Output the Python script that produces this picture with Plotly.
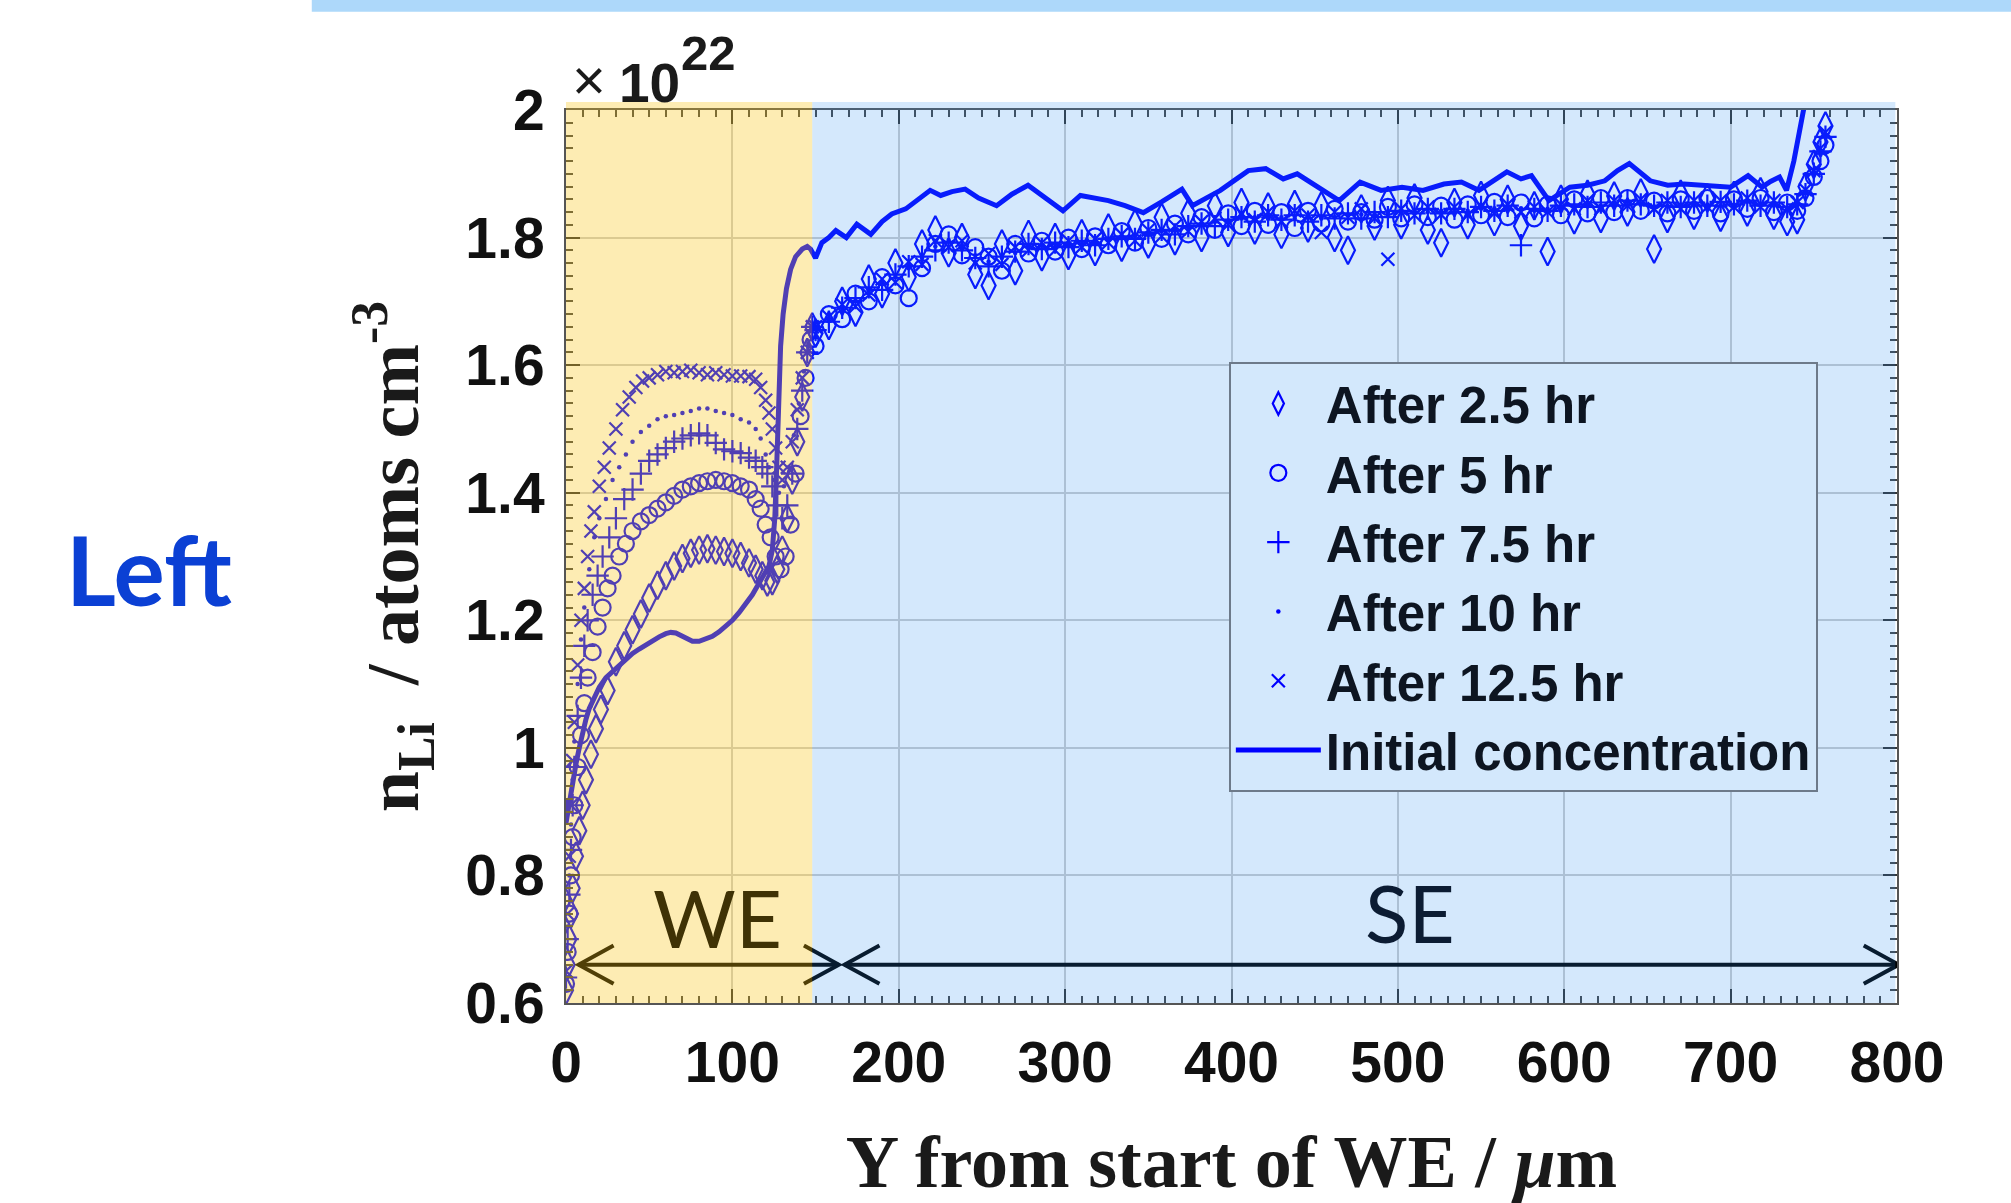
import plotly.graph_objects as go

# ---------------- data (values in units of 1e22 atoms cm^-3) ----------------
SERIES_NAMES = ["After 2.5 hr", "After 5 hr", "After 7.5 hr", "After 10 hr", "After 12.5 hr"]

# working-electrode (WE) part of each profile
WE_X_25 = [0, 1, 2, 3, 4, 6, 8, 10, 12, 15, 18, 21, 25, 30, 35, 40, 45, 50, 55, 60, 65, 70, 75, 80, 85, 90, 95,
           100, 105, 110, 114, 118, 121, 124, 127, 130, 133, 136, 139, 142, 145, 148]
WE_Y_25 = [0.62, 0.66, 0.70, 0.74, 0.78, 0.83, 0.87, 0.91, 0.95, 0.99, 1.03, 1.06, 1.09, 1.135, 1.16, 1.185, 1.21,
           1.235, 1.255, 1.27, 1.285, 1.297, 1.305, 1.31, 1.312, 1.31, 1.308, 1.305, 1.30, 1.29, 1.28, 1.27, 1.26,
           1.262, 1.28, 1.31, 1.36, 1.42, 1.48, 1.55, 1.62, 1.66]

WE_X_5 = [0, 1, 2, 3, 4, 5, 7, 9, 11, 13, 16, 19, 22, 25, 28, 32, 36, 40, 45, 50, 55, 60, 65, 70, 75, 80, 85, 90,
          95, 100, 105, 110, 114, 117, 120, 123, 126, 129, 132, 135, 138, 141, 144, 147]
WE_Y_5 = [0.63, 0.68, 0.74, 0.80, 0.86, 0.91, 0.97, 1.02, 1.07, 1.11, 1.15, 1.19, 1.22, 1.25, 1.27, 1.30, 1.32, 1.34,
          1.355, 1.365, 1.375, 1.385, 1.395, 1.405, 1.41, 1.415, 1.418, 1.42, 1.418, 1.415, 1.41, 1.405, 1.39, 1.375,
          1.35, 1.33, 1.30, 1.28, 1.30, 1.35, 1.43, 1.52, 1.58, 1.64]

WE_X_75 = [0, 1, 2, 3, 4, 5, 7, 9, 11, 13, 16, 19, 22, 26, 30, 35, 40, 45, 50, 55, 60, 65, 70, 75, 80, 85, 90, 95,
           100, 105, 110, 114, 118, 121, 124, 127, 130, 133, 136, 139, 142, 145, 148]
WE_Y_75 = [0.64, 0.70, 0.77, 0.84, 0.91, 0.97, 1.05, 1.11, 1.16, 1.20, 1.24, 1.27, 1.30, 1.33, 1.36, 1.39, 1.405,
           1.43, 1.45, 1.46, 1.47, 1.48, 1.485, 1.49, 1.493, 1.49, 1.478, 1.468, 1.465, 1.462, 1.455, 1.45, 1.44,
           1.43, 1.41, 1.38, 1.36, 1.38, 1.43, 1.50, 1.56, 1.62, 1.66]

WE_X_10 = [0, 1, 2, 3, 4, 5, 7, 9, 11, 14, 17, 20, 24, 28, 32, 36, 40, 45, 50, 55, 60, 65, 70, 75, 80, 85, 90, 95,
           100, 105, 110, 114, 117, 120, 122, 125, 128, 131, 134, 137, 140, 143, 146]
WE_Y_10 = [0.64, 0.72, 0.80, 0.88, 0.95, 1.01, 1.10, 1.17, 1.22, 1.28, 1.33, 1.36, 1.39, 1.42, 1.44, 1.46, 1.48,
           1.495, 1.505, 1.515, 1.52, 1.522, 1.525, 1.528, 1.532, 1.532, 1.528, 1.525, 1.522, 1.515, 1.51, 1.50,
           1.485, 1.46, 1.44, 1.42, 1.40, 1.41, 1.44, 1.49, 1.54, 1.59, 1.63]

WE_X_125 = [0, 1, 2, 3, 4, 5, 7, 9, 11, 13, 15, 17, 20, 23, 26, 30, 34, 38, 42, 46, 50, 55, 60, 65, 70, 75, 80, 85,
            90, 95, 100, 105, 110, 114, 117, 120, 122, 124, 126, 128, 130, 133, 136, 139, 142, 145, 148]
WE_Y_125 = [0.65, 0.74, 0.83, 0.91, 0.98, 1.04, 1.13, 1.20, 1.25, 1.30, 1.34, 1.37, 1.41, 1.44, 1.47, 1.50, 1.53,
            1.55, 1.565, 1.575, 1.58, 1.585, 1.59, 1.588, 1.59, 1.592, 1.588, 1.585, 1.588, 1.585, 1.583, 1.583,
            1.582, 1.578, 1.565, 1.545, 1.525, 1.50, 1.47, 1.44, 1.42, 1.44, 1.48, 1.53, 1.58, 1.62, 1.66]

# separator-electrolyte (SE) part, shared positions
SE_X = [150, 158, 166, 174, 182, 190, 198, 206, 214, 222, 230, 238, 246, 254, 262, 270, 278, 286, 294, 302, 310,
        318, 326, 334, 342, 350, 358, 366, 374, 382, 390, 398, 406, 414, 422, 430, 438, 446, 454, 462, 470, 478,
        486, 494, 502, 510, 518, 526, 534, 542, 550, 558, 566, 574, 582, 590, 598, 606, 614, 622, 630, 638, 646,
        654, 662, 670, 678, 686, 694, 702, 710, 718, 726, 734, 740, 745, 750, 754, 757]

SE_Y_25 = [1.650, 1.662, 1.700, 1.683, 1.735, 1.712, 1.760, 1.738, 1.790, 1.812, 1.776, 1.800, 1.742, 1.725, 1.790,
           1.748, 1.805, 1.770, 1.800, 1.772, 1.806, 1.778, 1.815, 1.785, 1.822, 1.790, 1.832, 1.795, 1.838, 1.800,
           1.850, 1.808, 1.855, 1.812, 1.848, 1.805, 1.852, 1.815, 1.850, 1.800, 1.780, 1.845, 1.818, 1.858, 1.820,
           1.862, 1.812, 1.792, 1.855, 1.820, 1.866, 1.825, 1.860, 1.818, 1.850, 1.778, 1.860, 1.828, 1.868, 1.830,
           1.865, 1.840, 1.870, 1.782, 1.830, 1.868, 1.835, 1.862, 1.832, 1.866, 1.840, 1.872, 1.835, 1.825, 1.828,
           1.880, 1.915, 1.950, 1.975]
SE_Y_5 = [1.630, 1.680, 1.672, 1.712, 1.700, 1.738, 1.725, 1.705, 1.752, 1.790, 1.805, 1.772, 1.785, 1.770, 1.748,
          1.790, 1.775, 1.795, 1.778, 1.800, 1.782, 1.802, 1.788, 1.810, 1.792, 1.815, 1.798, 1.822, 1.805, 1.832,
          1.812, 1.838, 1.818, 1.842, 1.820, 1.840, 1.815, 1.842, 1.822, 1.845, 1.825, 1.840, 1.828, 1.848, 1.830,
          1.852, 1.832, 1.850, 1.828, 1.852, 1.835, 1.856, 1.832, 1.855, 1.830, 1.852, 1.835, 1.860, 1.838, 1.862,
          1.840, 1.862, 1.842, 1.858, 1.838, 1.860, 1.842, 1.862, 1.838, 1.860, 1.845, 1.862, 1.840, 1.855, 1.842,
          1.862, 1.895, 1.920, 1.945]
SE_Y_75 = [1.655, 1.668, 1.690, 1.705, 1.722, 1.718, 1.742, 1.755, 1.770, 1.780, 1.792, 1.780, 1.768, 1.755, 1.770,
           1.778, 1.790, 1.782, 1.792, 1.785, 1.795, 1.788, 1.798, 1.802, 1.798, 1.808, 1.812, 1.805, 1.818, 1.822,
           1.818, 1.828, 1.832, 1.825, 1.835, 1.828, 1.835, 1.825, 1.835, 1.830, 1.838, 1.830, 1.840, 1.832, 1.842,
           1.838, 1.845, 1.838, 1.845, 1.840, 1.848, 1.842, 1.850, 1.788, 1.845, 1.842, 1.850, 1.852, 1.848, 1.855,
           1.850, 1.858, 1.852, 1.850, 1.855, 1.848, 1.855, 1.850, 1.856, 1.852, 1.858, 1.850, 1.855, 1.848, 1.852,
           1.868, 1.900, 1.935, 1.958]
SE_Y_10 = [1.645, 1.670, 1.688, 1.700, 1.718, 1.728, 1.738, 1.752, 1.768, 1.786, 1.796, 1.788, 1.772, 1.762, 1.768,
           1.776, 1.786, 1.788, 1.786, 1.792, 1.790, 1.792, 1.796, 1.800, 1.802, 1.806, 1.810, 1.812, 1.816, 1.820,
           1.825, 1.826, 1.830, 1.832, 1.830, 1.832, 1.830, 1.832, 1.830, 1.832, 1.835, 1.836, 1.835, 1.836, 1.840,
           1.842, 1.840, 1.842, 1.840, 1.842, 1.845, 1.846, 1.845, 1.846, 1.842, 1.845, 1.846, 1.850, 1.852, 1.850,
           1.852, 1.856, 1.852, 1.846, 1.850, 1.852, 1.850, 1.852, 1.850, 1.852, 1.856, 1.852, 1.850, 1.846, 1.850,
           1.870, 1.902, 1.930, 1.960]
SE_Y_125 = [1.660, 1.676, 1.695, 1.692, 1.710, 1.735, 1.730, 1.762, 1.758, 1.795, 1.785, 1.795, 1.760, 1.775, 1.758,
            1.785, 1.780, 1.792, 1.780, 1.795, 1.785, 1.798, 1.792, 1.805, 1.795, 1.812, 1.802, 1.818, 1.810, 1.825,
            1.830, 1.820, 1.838, 1.828, 1.840, 1.825, 1.842, 1.835, 1.808, 1.840, 1.832, 1.845, 1.830, 1.766, 1.845,
            1.835, 1.848, 1.836, 1.848, 1.835, 1.850, 1.838, 1.852, 1.840, 1.848, 1.840, 1.852, 1.845, 1.858, 1.845,
            1.858, 1.850, 1.860, 1.845, 1.858, 1.845, 1.858, 1.848, 1.858, 1.848, 1.862, 1.848, 1.858, 1.845, 1.855,
            1.875, 1.905, 1.940, 1.965]

INIT_X = [0, 2, 4, 6, 8, 10, 12, 14, 17, 20, 24, 28, 32, 36, 40, 44, 48, 52, 56, 60, 63, 66, 69, 72, 76, 80, 84, 88,
          92, 96, 100, 104, 108, 112, 116, 119, 122, 124, 125.5, 126.5, 127.3, 128, 129, 130.5, 132.5, 135, 138, 142,
          145, 147, 149, 150, 153.8, 158, 162.2, 168.5, 174.8, 183.2, 190, 195.8, 204.2, 212, 218.9, 225.2, 232,
          239.9, 248, 258.8, 268, 277.7, 288, 298.7, 309.2, 318, 326, 336, 347, 358, 370.2, 376.5, 385, 393.3, 402,
          410.1, 420.6, 431.1, 439.5, 452, 464.7, 477.3, 489.9, 502.5, 515.1, 527.7, 538.2, 548.7, 557, 565.5, 574,
          580.3, 590.8, 603.4, 614, 624.4, 632, 639.1, 651.7, 662.2, 672, 683.2, 700, 710.5, 718.9, 724, 729.4,
          733.6, 738, 742, 746]
INIT_Y = [0.882, 0.915, 0.945, 0.975, 1.000, 1.025, 1.045, 1.062, 1.080, 1.095, 1.110, 1.120, 1.130, 1.140, 1.148,
          1.155, 1.162, 1.168, 1.174, 1.179, 1.181, 1.180, 1.176, 1.171, 1.167, 1.167, 1.170, 1.175, 1.182, 1.190,
          1.200, 1.212, 1.225, 1.240, 1.258, 1.272, 1.285, 1.310, 1.360, 1.430, 1.500, 1.570, 1.630, 1.680, 1.720,
          1.750, 1.770, 1.782, 1.786, 1.782, 1.772, 1.768, 1.792, 1.800, 1.811, 1.800, 1.821, 1.805, 1.825, 1.837,
          1.845, 1.860, 1.874, 1.866, 1.872, 1.876, 1.862, 1.850, 1.868, 1.882, 1.862, 1.842, 1.866, 1.862, 1.858,
          1.850, 1.839, 1.856, 1.876, 1.850, 1.862, 1.874, 1.890, 1.905, 1.908, 1.892, 1.900, 1.878, 1.858, 1.887,
          1.874, 1.879, 1.874, 1.884, 1.887, 1.874, 1.888, 1.903, 1.892, 1.897, 1.858, 1.879, 1.882, 1.889, 1.905,
          1.916, 1.889, 1.882, 1.884, 1.882, 1.879, 1.897, 1.879, 1.888, 1.895, 1.874, 1.920, 1.975, 2.030]

X_TICKS = [0, 100, 200, 300, 400, 500, 600, 700, 800]
Y_TICKS = [0.6, 0.8, 1.0, 1.2, 1.4, 1.6, 1.8, 2.0]
Y_TICKTEXT = ["0.6", "0.8", "1", "1.2", "1.4", "1.6", "1.8", "2"]
WE_SE_BOUNDARY = 148

# ---------------- figure ----------------
BLUE = "#0000ff"
series = [
    (SERIES_NAMES[0], WE_X_25, WE_Y_25, SE_Y_25, dict(symbol="diamond-tall-open", size=20, line=dict(width=2.2))),
    (SERIES_NAMES[1], WE_X_5, WE_Y_5, SE_Y_5, dict(symbol="circle-open", size=16, line=dict(width=2.2))),
    (SERIES_NAMES[2], WE_X_75, WE_Y_75, SE_Y_75, dict(symbol="cross-thin-open", size=16, line=dict(width=2.2))),
    (SERIES_NAMES[3], WE_X_10, WE_Y_10, SE_Y_10, dict(symbol="circle", size=4.5, line=dict(width=0))),
    (SERIES_NAMES[4], WE_X_125, WE_Y_125, SE_Y_125, dict(symbol="x-thin-open", size=13, line=dict(width=2.2))),
]

fig = go.Figure()
for name, wx, wy, sy, mk in series:
    mk = dict(mk)
    mk["color"] = BLUE
    mk["line"] = dict(mk["line"], color=BLUE)
    fig.add_trace(go.Scatter(x=wx + SE_X, y=wy + sy, mode="markers", name=name, marker=mk))

fig.add_trace(go.Scatter(x=INIT_X, y=INIT_Y, mode="lines", name="Initial concentration",
                         line=dict(color=BLUE, width=5)))


def arrow_shapes(xa, xb, y, hx, hy):
    col = "#000000"
    return [
        dict(type="line", xref="x", yref="y", x0=xa, x1=xb, y0=y, y1=y, line=dict(color=col, width=4), layer="above"),
        dict(type="path", xref="x", yref="y", layer="above", line=dict(color=col, width=4),
             path=f"M {xa + hx},{y + hy} L {xa},{y} L {xa + hx},{y - hy}"),
        dict(type="path", xref="x", yref="y", layer="above", line=dict(color=col, width=4),
             path=f"M {xb - hx},{y + hy} L {xb},{y} L {xb - hx},{y - hy}"),
    ]


shapes = []
shapes += arrow_shapes(7.6, 164, 0.66, 21, 0.03)
shapes += arrow_shapes(167.4, 801, 0.66, 21, 0.03)
# tinted overlays (above data, like the original)
shapes.append(dict(type="rect", xref="x", yref="paper", x0=0, x1=WE_SE_BOUNDARY, y0=0, y1=1.009,
                   fillcolor="rgb(250,195,20)", opacity=0.32, line=dict(width=0), layer="above"))
shapes.append(dict(type="rect", xref="x", yref="paper", x0=WE_SE_BOUNDARY, x1=799, y0=0, y1=1.009,
                   fillcolor="rgb(40,140,240)", opacity=0.2, line=dict(width=0), layer="above"))
# top light-blue band of the slide
shapes.append(dict(type="rect", xref="paper", yref="paper", x0=-0.191, x1=1.2, y0=1.110, y1=1.2,
                   fillcolor="#ADD8FA", line=dict(width=0), layer="above"))

C = dict(xanchor="center", yanchor="middle", showarrow=False)
annotations = [
    dict(text="WE", x=91, y=0.735, xref="x", yref="y",
         font=dict(family="Lato", size=80, color="#3f3205"), **C),
    dict(text="SE", x=507, y=0.742, xref="x", yref="y",
         font=dict(family="Lato", size=80, color="#0c1c33"), **C),
    dict(text="Left", x=-0.3133, y=0.487, xref="paper", yref="paper",
         font=dict(family="Lato", size=96, color="#0B40D4", weight="bold"), **C),
    dict(text="×", x=0.0173, y=1.034, xref="paper", yref="paper",
         font=dict(family="Liberation Sans", size=58, color="#1a1a1a"), **C),
    dict(text="10", x=0.0624, y=1.030, xref="paper", yref="paper",
         font=dict(family="Liberation Sans", size=55, color="#1a1a1a", weight="bold"), **C),
    dict(text="22", x=0.1074, y=1.064, xref="paper", yref="paper",
         font=dict(family="Liberation Sans", size=49, color="#1a1a1a", weight="bold"), **C),
]

tickfont = dict(family="Liberation Sans", size=57, color="#111111", weight="bold")
titlefont = dict(family="Liberation Serif", size=74, color="#1a1a1a", weight="bold")
axis_common = dict(showline=True, linecolor="#555555", linewidth=2, mirror="allticks",
                   ticks="inside", ticklen=14, tickwidth=2, tickcolor="#333333",
                   showgrid=True, gridcolor="#cdcdcd", gridwidth=1.5, zeroline=False,
                   tickfont=tickfont)

fig.update_layout(
    width=2011, height=1203,
    margin=dict(l=566, r=114, t=110, b=200, autoexpand=False),
    paper_bgcolor="white", plot_bgcolor="white",
    xaxis=dict(range=[0, 800], tickvals=X_TICKS, ticklabelstandoff=9,
               minor=dict(ticks="inside", ticklen=7, tickwidth=1.5, tickcolor="#444444", dtick=10, showgrid=False),
               title=dict(text="Y from start of WE / <i>μ</i>m", font=titlefont, standoff=46),
               **axis_common),
    yaxis=dict(range=[0.6, 2.0], tickvals=Y_TICKS, ticktext=Y_TICKTEXT, ticklabelstandoff=8,
               minor=dict(ticks="inside", ticklen=7, tickwidth=1.5, tickcolor="#444444", dtick=0.02, showgrid=False),
               title=dict(text="n<sub>Li</sub>  / atoms cm<sup>-3</sup>", font=titlefont, standoff=22),
               **axis_common),
    legend=dict(x=0.498, y=0.718, xanchor="left", yanchor="top",
                bgcolor="#D3E8FC", bordercolor="#6d7a8a", borderwidth=2,
                font=dict(family="Liberation Sans", size=51, color="#0d1521", weight="bold"),
                itemwidth=85, tracegroupgap=0),
    shapes=shapes,
    annotations=annotations,
    showlegend=True,
)

fig.write_html("out.html")
